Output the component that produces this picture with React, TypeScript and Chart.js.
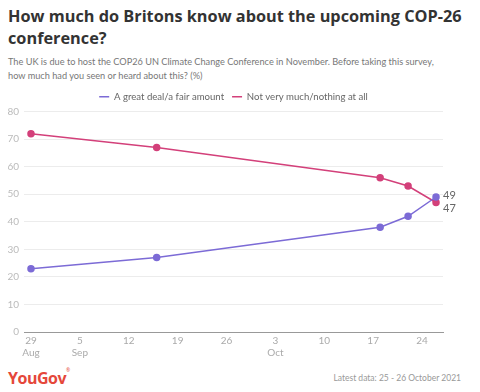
import React, { useEffect, useRef } from "react";
import { Chart, registerables } from "chart.js";

Chart.register(...registerables);

const surveyDates = ["2021-08-29", "2021-09-16", "2021-10-18", "2021-10-22", "2021-10-26"];
const greatDeal = [23, 27, 38, 42, 49];
const notMuch = [72, 67, 56, 53, 47];
const seriesNames = ["A great deal/a fair amount", "Not very much/nothing at all"];
const tickDates = ["2021-08-29", "2021-09-05", "2021-09-12", "2021-09-19", "2021-09-26", "2021-10-03", "2021-10-10", "2021-10-17", "2021-10-24"];
const tickLabels: (string | string[])[] = [["29", "Aug"], ["5", "Sep"], "12", "19", "26", ["3", "Oct"], "10", "17", "24"];
const axisStart = "2021-08-28";
const axisEnd = "2021-10-27";
const yTicks = [0, 10, 20, 30, 40, 50, 60, 70, 80];

const DAY = 86400000;
const dayOf = (d: string) => Math.round((Date.parse(d + "T00:00:00Z") - Date.parse(axisStart + "T00:00:00Z")) / DAY);

const PURPLE = "#7c6bd6";
const MAGENTA = "#d3407a";
const FONT = "'Open Sans', 'Noto Sans', sans-serif";
const SMALL = "Lato, 'Open Sans', sans-serif";

const endLabels = {
  id: "endLabels",
  afterDatasetsDraw(chart: any) {
    const ctx = chart.ctx;
    ctx.save();
    ctx.font = `11px ${SMALL}`;
    ctx.fillStyle = "#666";
    ctx.textBaseline = "middle";
    ctx.textAlign = "left";
    const offsets = [-2, 6];
    chart.data.datasets.forEach((ds: any, i: number) => {
      const meta = chart.getDatasetMeta(i);
      const last = meta.data[meta.data.length - 1];
      const v = ds.data[ds.data.length - 1].y;
      ctx.fillText(String(v), last.x + 7, last.y + offsets[i]);
    });
    ctx.restore();
  },
};

// centre the legend over the plot area rather than the whole canvas
const legendCenter = {
  id: "legendCenter",
  afterLayout(chart: any) {
    const lg = chart.legend;
    if (!lg) return;
    const shift = (chart.chartArea.left + chart.chartArea.right) / 2 - (lg.left + lg.right) / 2;
    lg.left += shift;
    lg.right += shift;
  },
};

export default function App() {
  const ref = useRef<HTMLCanvasElement>(null);
  useEffect(() => {
    const tickVals = tickDates.map(dayOf);
    const chart = new Chart(ref.current!, {
      type: "line",
      data: {
        datasets: [
          {
            label: seriesNames[0],
            data: surveyDates.map((d, i) => ({ x: dayOf(d), y: greatDeal[i] })),
            borderColor: PURPLE,
            backgroundColor: PURPLE,
            pointBackgroundColor: PURPLE,
            pointBorderColor: PURPLE,
            borderWidth: 1.5,
            pointRadius: 3,
            tension: 0,
          },
          {
            label: seriesNames[1],
            data: surveyDates.map((d, i) => ({ x: dayOf(d), y: notMuch[i] })),
            borderColor: MAGENTA,
            backgroundColor: MAGENTA,
            pointBackgroundColor: MAGENTA,
            pointBorderColor: MAGENTA,
            borderWidth: 1.5,
            pointRadius: 3,
            tension: 0,
          },
        ],
      },
      options: {
        animation: false,
        responsive: false,
        maintainAspectRatio: false,
        layout: { padding: { left: 0, right: 37, top: 0, bottom: 0 } },
        plugins: {
          legend: {
            display: true,
            position: "top",
            labels: {
              boxWidth: 10,
              boxHeight: 0,
              color: "#666",
              font: { family: SMALL, size: 9.6 },
              padding: 8,
              generateLabels: (c: any) =>
                c.data.datasets.map((ds: any, i: number) => ({
                  text: ds.label,
                  fillStyle: ds.borderColor,
                  strokeStyle: ds.borderColor,
                  lineWidth: 1.5,
                  fontColor: "#666",
                  datasetIndex: i,
                  hidden: false,
                })),
            },
          },
          tooltip: { enabled: false },
        },
        scales: {
          x: {
            type: "linear",
            min: dayOf(axisStart),
            max: dayOf(axisEnd),
            afterBuildTicks: (s: any) => {
              s.ticks = tickVals.map((v) => ({ value: v }));
            },
            afterFit: (s: any) => {
              s.height = 26;
            },
            ticks: {
              autoSkip: false,
              maxRotation: 0,
              color: "#aaa",
              font: { family: SMALL, size: 10 },
              padding: 3,
              callback: (v: any) => {
                const idx = tickVals.indexOf(Number(v));
                return idx >= 0 ? tickLabels[idx] : "";
              },
            },
            grid: { display: false, drawTicks: false },
            border: { display: true, color: "#999", width: 1 },
          },
          y: {
            min: 0,
            max: 80,
            afterBuildTicks: (s: any) => {
              s.ticks = yTicks.map((v) => ({ value: v }));
            },
            afterFit: (s: any) => {
              s.width = 24;
            },
            ticks: {
              color: "#bbb",
              font: { family: SMALL, size: 10 },
              padding: 5,
            },
            grid: { color: "#ececec", lineWidth: 1, drawTicks: false },
            border: { display: false },
          },
        },
      },
      plugins: [endLabels, legendCenter],
    });
    return () => chart.destroy();
  }, []);

  return (
    <div style={{ position: "fixed", left: 0, top: 0, width: 480, height: 392, background: "#fff", fontFamily: FONT }}>
      <div style={{ position: "absolute", left: 8, top: 5, width: 472, fontSize: 16.3, fontWeight: 700, color: "#333", lineHeight: "22px", whiteSpace: "nowrap" }}>
        How much do Britons know about the upcoming COP-26<br />conference?
      </div>
      <div style={{ position: "absolute", left: 8, top: 55, width: 472, fontFamily: SMALL, fontSize: 9.2, color: "#777", lineHeight: "14px", whiteSpace: "nowrap" }}>
        The UK is due to host the COP26 UN Climate Change Conference in November. Before taking this survey,<br />how much had you seen or heard about this? (%)
      </div>
      <canvas ref={ref} width={480} height={274} style={{ position: "absolute", left: 0, top: 84, width: 480, height: 274 }} />
      <div style={{ position: "absolute", left: 8, top: 367, fontSize: 16, fontWeight: 700, color: "#e5473a", letterSpacing: -0.5 }}>
        YouGov<span style={{ fontSize: 5, verticalAlign: "top", fontWeight: 400 }}>®</span>
      </div>
      <div style={{ position: "absolute", right: 19, top: 373, fontFamily: SMALL, fontSize: 8.5, color: "#999" }}>
        Latest data: 25 - 26 October 2021
      </div>
    </div>
  );
}
